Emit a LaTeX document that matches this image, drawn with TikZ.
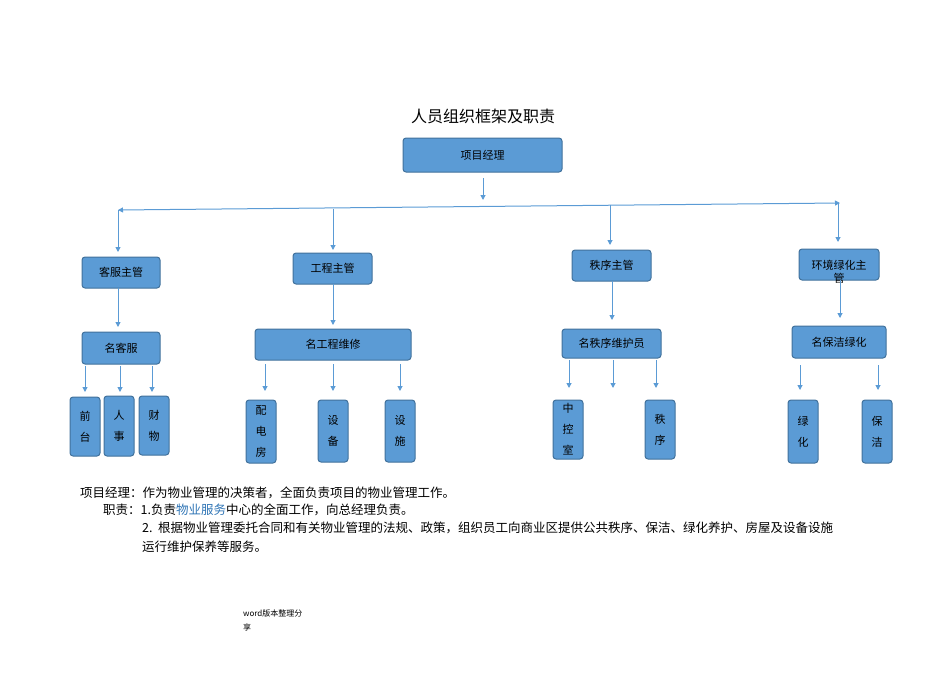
\documentclass[tikz,border=0pt]{standalone}
\usepackage{fontspec}
\setmainfont{Noto Sans CJK SC}
\usetikzlibrary{arrows.meta}
\definecolor{bfill}{HTML}{5B9BD5}
\definecolor{bdraw}{HTML}{41719C}
\definecolor{lnk}{HTML}{2E74B5}
\tikzset{
 box/.style={draw=bdraw,fill=bfill,rounded corners=3pt,line width=1pt,inner sep=0pt,font=\fontsize{11}{13}\selectfont,align=center},
 arr/.style={draw=bfill,line width=1pt,-{Triangle[length=5pt,width=5pt]}},
 txt/.style={anchor=west,inner sep=0pt,font=\fontsize{12.5}{15}\selectfont}
}
\newcommand{\bx}[6]{\node[box,minimum width=#3-#1,minimum height=#4-#2] (#5) at ({(#1+#3)/2},{(#2+#4)/2}) {#6};}
\begin{document}
\begin{tikzpicture}[x=1pt,y=-1pt]
\useasboundingbox (0,0) rectangle (950,672);
\node[font=\fontsize{16}{18}\selectfont] (title) at (483,116) {人员组织框架及职责};
\bx{403}{138}{562}{172}{pm}{项目经理}
\coordinate (a1) at (483,178); \coordinate (a2) at (483,200);
\draw[arr] (a1) -- (a2);
\coordinate (hl) at (118,210); \coordinate (hr) at (840,203);
\draw[draw=bfill,line width=1pt,{Triangle[length=5pt,width=5pt]}-{Triangle[length=5pt,width=5pt]}] (hl) -- (hr);
\bx{82}{257}{160}{288}{kf}{客服主管}
\bx{293}{253}{372}{284}{gc}{工程主管}
\bx{572}{250}{651}{281}{zx}{秩序主管}
\bx{799}{249}{879}{280}{hj}{}
\node[font=\fontsize{11}{13}\selectfont,align=center] (hjt) at (839,272) {环境绿化主\\管};
\foreach \x/\ya/\yb/\n in {118/210/252/kf,333/209/250/gc,610/205/245/zx,838/203/242/hj}{
 \coordinate (d\n) at (\x,\ya); \coordinate (e\n) at (\x,\yb);
 \draw[arr] (d\n) -- (e\n);}
\bx{82}{332}{160}{364}{mkf}{名客服}
\bx{255}{329}{411}{360}{mgc}{名工程维修}
\bx{562}{329}{661}{358}{mzx}{名秩序维护员}
\bx{792}{326}{886}{358}{mbj}{名保洁绿化}
\foreach \x/\ya/\yb/\n in {118/288/327/1,333/284/325/2,612/281/320/3,840/280/318/4,
 85/366/392/5,120/366/392/6,152/366/392/7,265/364/391/8,333/364/391/9,400/364/391/10,
 569/360/388/11,613/360/388/12,656/360/388/13,800/365/390/14,878/365/390/15}{
 \coordinate (p\n) at (\x,\ya); \coordinate (q\n) at (\x,\yb);
 \draw[arr] (p\n) -- (q\n);}
\tikzset{vbox/.style={box,font=\fontsize{11}{21}\selectfont}}
\foreach \xa/\ya/\xb/\yb/\n/\t in {70/397/100/456/s1/前\\台,104/396/134/456/s2/人\\事,139/396/169/455/s3/财\\物,
 246/400/276/463/s4/配\\电\\房,318/400/348/462/s5/设\\备,385/400/415/462/s6/设\\施,
 553/400/583/459/s7/中\\控\\室,645/400/675/459/s8/秩\\序,788/400/818/463/s9/绿\\化,862/400/892/463/s10/保\\洁}{
 \node[vbox,minimum width=\xb-\xa,minimum height=\yb-\ya] (\n) at ({(\xa+\xb)/2},{(\ya+\yb)/2}) {\t};}
\node[txt] (l1) at (80,493) {项目经理：作为物业管理的决策者，全面负责项目的物业管理工作。};
\node[txt] (l2) at (103,510) {职责：1.负责\textcolor{lnk}{物业服务}中心的全面工作，向总经理负责。};
\node[txt] (l3) at (142,528) {2.\ \ 根据物业管理委托合同和有关物业管理的法规、政策，组织员工向商业区提供公共秩序、保洁、绿化养护、房屋及设备设施};
\node[txt] (l4) at (142,547) {运行维护保养等服务。};
\node[anchor=north west,inner sep=0pt,font=\fontsize{8}{14}\selectfont,align=left] (ft) at (243,610) {word版本整理分\\享};
\end{tikzpicture}
\end{document}
